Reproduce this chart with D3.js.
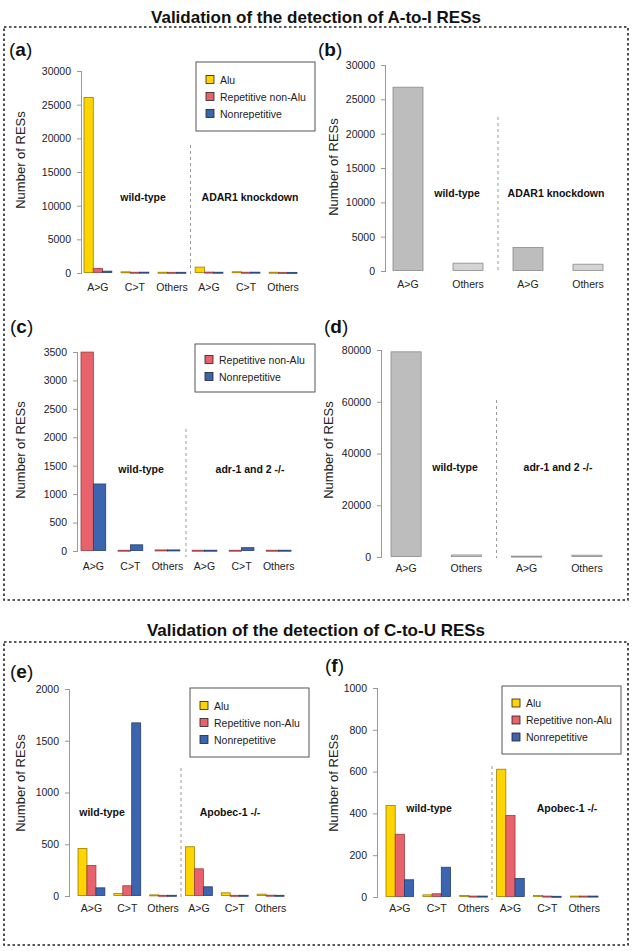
<!DOCTYPE html>
<html><head><meta charset="utf-8">
<script src="https://cdn.jsdelivr.net/npm/d3@7"></script>
<style>body{margin:0;background:#fff}svg{display:block}text{font-family:"Liberation Sans",Arial,sans-serif}</style>
</head><body>
<script>
// ---------- data ----------
const categories6 = ["A>G","C>T","Others","A>G","C>T","Others"];
const categories4 = ["A>G","Others","A>G","Others"];
const seriesNames = ["Alu","Repetitive non-Alu","Nonrepetitive"];
const seriesColors = {"Alu":"#FFD400","Repetitive non-Alu":"#E8626B","Nonrepetitive":"#3C65B0"};
const seriesStroke = {"Alu":"#9a8000","Repetitive non-Alu":"#9a3d44","Nonrepetitive":"#243f70"};

// panel (a) human, A-to-I
const aAlu    = [26000, 100, 40, 800, 110, 40];
const aRep    = [600, 40, 30, 60, 40, 20];
const aNonrep = [200, 50, 30, 40, 50, 20];
// panel (b)
const bValues = [26700, 1070, 3350, 920];
// panel (c)
const cRep    = [3490, 5, 10, 5, 5, 5];
const cNonrep = [1170, 100, 10, 5, 50, 5];
// panel (d)
const dValues = [79100, 600, 150, 500];
// panel (e)
const eAlu    = [455, 19, 6, 471, 26, 13];
const eRep    = [290, 94, 2, 258, 2, 3];
const eNonrep = [74, 1668, 2, 84, 2, 2];
// panel (f)
const fAlu    = [435, 8, 5, 609, 5, 2];
const fRep    = [298, 13, 2, 388, 2, 2];
const fNonrep = [80, 140, 2, 86, 1, 2];

const aTicks = [0,5000,10000,15000,20000,25000,30000];
const cTicks = [0,500,1000,1500,2000,2500,3000,3500];
const dTicks = [0,20000,40000,60000,80000];
const eTicks = [0,500,1000,1500,2000];
const fTicks = [0,200,400,600,800,1000];

const W = 633, H = 951;
const svg = d3.select("body").append("svg").attr("width",W).attr("height",H);

// titles and dashed frames
svg.append("text").attr("x",316).attr("y",23).attr("text-anchor","middle")
  .attr("font-size",17).attr("font-weight","bold").attr("fill","#111")
  .text("Validation of the detection of A-to-I RESs");
svg.append("text").attr("x",316).attr("y",636).attr("text-anchor","middle")
  .attr("font-size",17).attr("font-weight","bold").attr("fill","#111")
  .text("Validation of the detection of C-to-U RESs");
[[4,27,624,573],[4,642,624,303]].forEach(([x,y,w,h])=>{
  svg.append("rect").attr("x",x).attr("y",y).attr("width",w).attr("height",h)
    .attr("fill","none").attr("stroke","#222").attr("stroke-width",1.6).attr("stroke-dasharray","2.5,2.5");
});

function panelLetter(x,y,l){
  const t = svg.append("text").attr("x",x).attr("y",y).attr("font-size",19).attr("fill","#111");
  t.append("tspan").text("(");
  t.append("tspan").attr("font-weight","bold").text(l);
  t.append("tspan").text(")");
}

function panel(o){
  const g = svg.append("g");
  const y = d3.scaleLinear().domain([0, o.ticks[o.ticks.length-1]]).range([o.y0, o.yTop]);
  // axis (R style)
  const ax = g.append("g").attr("transform",`translate(${o.axisX},0)`)
    .call(d3.axisLeft(y).tickValues(o.ticks).tickSize(5).tickPadding(6).tickFormat(d3.format("d")));
  ax.select(".domain").attr("stroke","#999").attr("d",`M-0.5,${o.y0}V${o.yTop}`);
  ax.selectAll(".tick line").attr("stroke","#999");
  ax.selectAll(".tick text").attr("font-size",10.5).attr("fill","#222").attr("font-family","Liberation Sans, Arial, sans-serif");
  // y label
  g.append("text").attr("transform",`translate(${o.ylabX},${o.ylabY}) rotate(-90)`)
    .attr("text-anchor","middle").attr("font-size",13).attr("fill","#222").text("Number of RESs");
  // groups
  const idx = o.cats.map((c,i)=>i);
  const n = o.series.length;
  const x0 = d3.scaleBand().domain(idx).range(o.xRange).paddingInner(1/(n+1)).paddingOuter(0);
  const x1 = d3.scaleBand().domain(d3.range(n)).range([0,x0.bandwidth()]);
  o.series.forEach((s,si)=>{
    g.selectAll(null).data(s.values).enter().append("rect")
      .attr("x",(d,i)=>x0(i)+x1(si))
      .attr("y",d=>y(d)-0.5)
      .attr("width",x1.bandwidth())
      .attr("height",d=>Math.max(1, o.y0 - y(d)))
      .attr("fill",(d,i)=>s.fill(i)).attr("stroke",(d,i)=>s.stroke(i)).attr("stroke-width",0.8);
  });
  // x labels
  g.selectAll(null).data(o.cats).enter().append("text")
    .attr("x",(d,i)=>x0(i)+x0.bandwidth()/2).attr("y",o.xlabY)
    .attr("text-anchor","middle").attr("font-size",10.5).attr("fill","#222").text(d=>d);
  // separator
  const half = o.cats.length/2;
  const sx = (x0(half-1)+x0.bandwidth()+x0(half))/2;
  g.append("line").attr("x1",sx).attr("x2",sx).attr("y1",o.sepTop).attr("y2",o.sepBot)
    .attr("stroke","#999").attr("stroke-width",1).attr("stroke-dasharray","3,3");
  // condition labels
  o.conds.forEach(c=>{
    g.append("text").attr("x",c[0]).attr("y",c[1]).attr("text-anchor","middle")
      .attr("font-size",10.5).attr("font-weight","bold").attr("fill","#111").text(c[2]);
  });
  // legend
  if(o.legend){
    const [lx,ly,lw,lh,names] = o.legend;
    g.append("rect").attr("x",lx).attr("y",ly).attr("width",lw).attr("height",lh)
      .attr("fill","#fff").attr("stroke","#555").attr("stroke-width",1);
    const rowH = 17;
    const startY = ly + lh/2 - (names.length-1)*rowH/2;
    names.forEach((nm,k)=>{
      const cy = startY + k*rowH;
      g.append("rect").attr("x",lx+10).attr("y",cy-4).attr("width",8).attr("height",8)
        .attr("fill",seriesColors[nm]).attr("stroke","#222").attr("stroke-width",0.8);
      g.append("text").attr("x",lx+24).attr("y",cy+4).attr("font-size",10.5).attr("fill","#222").text(nm);
    });
  }
}
const colorSeries = (name,vals)=>({values:vals, fill:()=>seriesColors[name], stroke:()=>seriesStroke[name]});
const graySeries = vals=>({values:vals, fill:i=>(i%2===0?"#BDBDBD":"#D4D4D4"), stroke:()=>"#8a8a8a"});

panelLetter(9,56,"a");
panel({ticks:aTicks, y0:273, yTop:71, axisX:82, ylabX:25, ylabY:160, xRange:[84,297], xlabY:291,
  cats:categories6, series:[colorSeries("Alu",aAlu),colorSeries("Repetitive non-Alu",aRep),colorSeries("Nonrepetitive",aNonrep)],
  sepTop:145, sepBot:277, conds:[[143,201,"wild-type"],[250,201,"ADAR1 knockdown"]],
  legend:[196,62,119,69,seriesNames]});

panelLetter(318,56,"b");
panel({ticks:aTicks, y0:271, yTop:65, axisX:386, ylabX:338, ylabY:167, xRange:[393,603], xlabY:288,
  cats:categories4, series:[graySeries(bValues)],
  sepTop:117, sepBot:273, conds:[[457,197,"wild-type"],[556,197,"ADAR1 knockdown"]]});

panelLetter(10,333,"c");
panel({ticks:cTicks, y0:551, yTop:352, axisX:78, ylabX:25, ylabY:450, xRange:[81,291], xlabY:570,
  cats:categories6, series:[colorSeries("Repetitive non-Alu",cRep),colorSeries("Nonrepetitive",cNonrep)],
  sepTop:429, sepBot:557, conds:[[141,473,"wild-type"],[250,473,"adr-1 and 2 -/-"]],
  legend:[195,344,120,48,["Repetitive non-Alu","Nonrepetitive"]]});

panelLetter(324,333,"d");
panel({ticks:dTicks, y0:557, yTop:350, axisX:382, ylabX:333, ylabY:450, xRange:[391,602], xlabY:572,
  cats:categories4, series:[graySeries(dValues)],
  sepTop:400, sepBot:558, conds:[[455,471,"wild-type"],[558,471,"adr-1 and 2 -/-"]]});

panelLetter(10,678,"e");
panel({ticks:eTicks, y0:896, yTop:689, axisX:70, ylabX:25, ylabY:783, xRange:[78,284], xlabY:912,
  cats:categories6, series:[colorSeries("Alu",eAlu),colorSeries("Repetitive non-Alu",eRep),colorSeries("Nonrepetitive",eNonrep)],
  sepTop:768, sepBot:897, conds:[[102,816,"wild-type"],[230,816,"Apobec-1 -/-"]],
  legend:[190,688,119,69,seriesNames]});

panelLetter(325,672,"f");
panel({ticks:fTicks, y0:897, yTop:688, axisX:378, ylabX:338, ylabY:783, xRange:[386,598], xlabY:912,
  cats:categories6, series:[colorSeries("Alu",fAlu),colorSeries("Repetitive non-Alu",fRep),colorSeries("Nonrepetitive",fNonrep)],
  sepTop:766, sepBot:900, conds:[[429,812,"wild-type"],[567,812,"Apobec-1 -/-"]],
  legend:[502,686,119,68,seriesNames]});
</script>
</body></html>
